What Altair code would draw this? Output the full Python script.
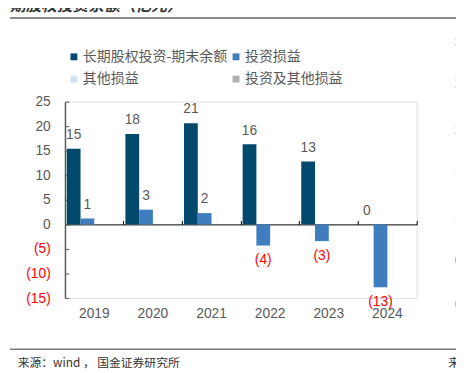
import altair as alt
import pandas as pd

years = ["2019", "2020", "2021", "2022", "2023", "2024"]
balance = [15.4, 18.4, 20.6, 16.3, 12.8, 0.0]
inv_gain = [1.2, 3.0, 2.3, -4.3, -3.4, -12.8]
series = ["长期股权投资-期末余额", "投资损益", "其他损益", "投资及其他损益"]
colors = ["#03496e", "#3f7dbf", "#cfe2f3", "#b0b0b0"]
y_ticks = [-15, -10, -5, 0, 5, 10, 15, 20, 25]
title_text = "期股权投资余额（亿元）"
source_text = "来源：wind ， 国金证券研究所"
edge_text = ["3", "2", "2", "1", "1", "0", "0"]
edge_pos = [-60, -18, 29, 70, 115, 162, 207]

rows = []
for i, yr in enumerate(years):
    rows.append({"year": yr, "series": series[0], "value": balance[i]})
    rows.append({"year": yr, "series": series[1], "value": inv_gain[i]})
df = pd.DataFrame(rows)

W, H = 358, 200
GREY = "#595959"
label_expr = "datum.value < 0 ? '(' + format(-datum.value, '.0f') + ')' : format(datum.value, '.0f')"

x_scale = alt.Scale(domain=years, paddingInner=0, paddingOuter=0)
xo_scale = alt.Scale(domain=series, paddingInner=0, paddingOuter=0.13)
y_scale = alt.Scale(domain=[-15, 25], nice=False, zero=False)

base = alt.Chart(df)

bars = base.mark_bar().encode(
    x=alt.X("year:N", sort=years, scale=x_scale,
            axis=alt.Axis(orient="bottom", title=None, domain=False, ticks=False,
                          labelAngle=0, labelFontSize=14, labelColor=GREY,
                          labelPadding=9, labelFont="Liberation Sans", grid=False)),
    xOffset=alt.XOffset("series:N", scale=xo_scale),
    y=alt.Y("value:Q", scale=y_scale,
            axis=alt.Axis(orient="left", values=y_ticks, title=None, grid=False,
                          domain=False, ticks=False, labelPadding=15, labelFontSize=14,
                          labelFont="Liberation Sans",
                          labelExpr="datum.value < 0 ? '(' + (-datum.value) + ')' : datum.value",
                          labelColor={"condition": {"test": "datum.value < 0", "value": "#ff0000"},
                                      "value": GREY})),
    color=alt.Color("series:N", scale=alt.Scale(domain=series, range=colors),
                    legend=alt.Legend(orient="none", legendX=2, legendY=-53, columns=2,
                                      direction="horizontal",
                                      title=None, symbolType="square", symbolSize=49,
                                      symbolStrokeWidth=0, labelFontSize=14.2,
                                      labelFont="Noto Sans CJK SC", labelColor=GREY,
                                      columnPadding=2, rowPadding=8, labelOffset=2,
                                      labelLimit=400, padding=0)),
)

ticks = base.mark_point(opacity=0).encode(
    x=alt.X("year:N", sort=years, scale=x_scale,
            axis=alt.Axis(orient="top", offset=-125, bandPosition=1, labels=False,
                          domain=True, ticks=True, tickSize=4, domainColor="#000000",
                          tickColor="#000000", domainWidth=1, tickWidth=1, title=None,
                          grid=False)),
    y=alt.Y("value:Q", scale=y_scale,
            axis=alt.Axis(orient="right", offset=-W, values=y_ticks, labels=False,
                          ticks=True, tickSize=4, domainColor=GREY, tickColor=GREY,
                          domainWidth=1.5, tickWidth=1, title=None, grid=False)),
)

pos_labels = base.transform_filter("datum.value >= 0").transform_calculate(
    label=label_expr
).mark_text(baseline="bottom", dy=-7, fontSize=14, color=GREY, font="Liberation Sans").encode(
    x=alt.X("year:N", sort=years, scale=x_scale, axis=None),
    xOffset=alt.XOffset("series:N", scale=xo_scale),
    y=alt.Y("value:Q", scale=y_scale, axis=None),
    text="label:N",
)

neg_labels = base.transform_filter("datum.value < 0").transform_calculate(
    label=label_expr
).mark_text(baseline="top", dy=8, fontSize=14, color="#ff0000", font="Liberation Sans").encode(
    x=alt.X("year:N", sort=years, scale=x_scale, axis=None),
    xOffset=alt.XOffset("series:N", scale=xo_scale),
    y=alt.Y("value:Q", scale=y_scale, axis=None),
    text="label:N",
)

one = alt.Data(values=[{"t": title_text, "s": source_text}])

top_rule = alt.Chart(one).mark_rule(color="#8c8c8c", strokeWidth=2).encode(
    x=alt.value(-56), x2=alt.value(398), y=alt.value(-85))
foot_rule = alt.Chart(one).mark_rule(color="#333333", strokeWidth=1).encode(
    x=alt.value(-56), x2=alt.value(398), y=alt.value(252))
title = alt.Chart(one).mark_text(align="left", baseline="bottom", fontSize=16,
                                 fontWeight="bold", fontStyle="italic", color="#333333",
                                 font="Noto Sans CJK SC").encode(
    x=alt.value(-56), y=alt.value(-89), text="t:N")
source = alt.Chart(one).mark_text(align="left", baseline="middle", fontSize=12,
                                  color="#333333", font="Noto Sans CJK SC").encode(
    x=alt.value(-48), y=alt.value(266), text="s:N")
right_src = alt.Chart(alt.Data(values=[{"t": "来"}])).mark_text(
    align="left", baseline="middle", fontSize=12, color="#333333",
    font="Noto Sans CJK SC").encode(x=alt.value(390), y=alt.value(266), text="t:N")

edge_df = pd.DataFrame({"t": edge_text, "p": edge_pos})
edge = alt.Chart(edge_df).mark_text(align="left", baseline="middle", fontSize=14,
                                    color=GREY, font="Liberation Sans").encode(
    x=alt.value(397), y=alt.Y("p:Q", scale=None, axis=None), text="t:N")

chart = alt.layer(
    top_rule, foot_rule, title, source, right_src, edge,
    bars, ticks, pos_labels, neg_labels,
).properties(
    width=W, height=H,
    autosize=alt.AutoSizeParams(type="none"),
    padding={"left": 58, "top": 92, "right": 40, "bottom": 73},
).configure_view(stroke=None).configure(font="Liberation Sans")

chart.save("out.html", embed_options={"renderer": "svg", "actions": False})
